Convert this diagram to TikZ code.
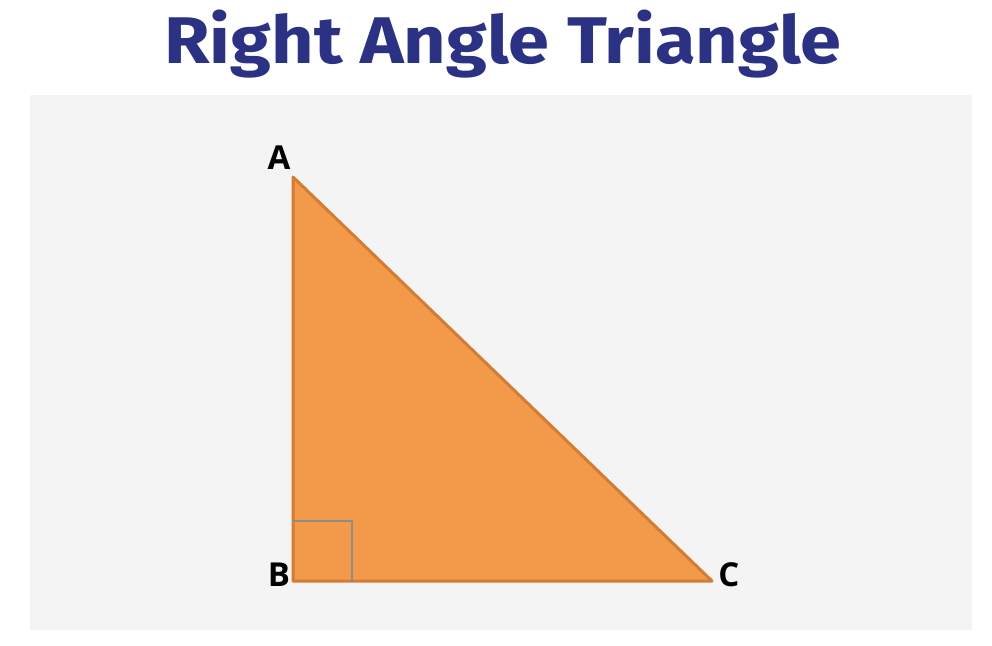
\documentclass[tikz,border=0pt]{standalone}
\usepackage{fontspec}
\setmainfont{Open Sans}
\newfontfamily\titlefont{Fira Sans}
\definecolor{titleblue}{HTML}{2B3183}
\definecolor{panelgray}{HTML}{F4F4F4}
\definecolor{trifill}{HTML}{F39A4A}
\definecolor{triedge}{HTML}{D27C36}
\definecolor{markgray}{HTML}{8C8C8C}
\tikzset{
  vlabel/.style={font=\fontsize{33}{33}\selectfont\bfseries, text=black, inner sep=0pt},
  tri/.style={fill=trifill, draw=triedge, line width=3pt, line join=round},
  rmark/.style={draw=markgray, line width=2pt}
}
\begin{document}
\begin{tikzpicture}[x=1pt,y=-1pt]
\useasboundingbox (0,0) rectangle (992,645);
\fill[white] (0,0) rectangle (992,645);
\fill[panelgray] (30,95) rectangle (972,630);
\node[font=\titlefont\fontsize{66}{66}\selectfont\bfseries, text=titleblue, anchor=base, xscale=1.12] (title) at (503,63) {Right Angle Triangle};
\coordinate (A) at (293,177);
\coordinate (B) at (293,581);
\coordinate (C) at (712,581);
\draw[tri] (A) -- (B) -- (C) -- cycle;
\draw[rmark] (293,521) -| (352,581);
\node[vlabel] (lA) at (279,158) {A};
\node[vlabel] (lB) at (279,575) {B};
\node[vlabel] (lC) at (729,575) {C};
\end{tikzpicture}
\end{document}
